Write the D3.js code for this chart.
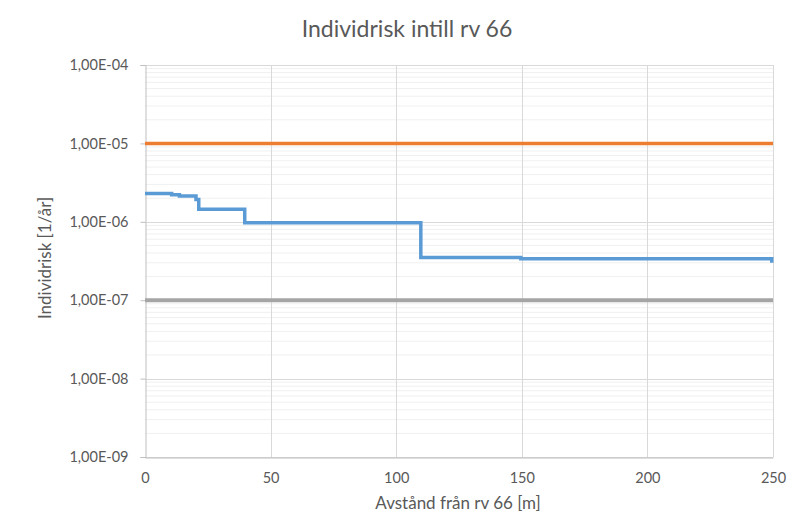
<!DOCTYPE html>
<html><head><meta charset="utf-8">
<script src="https://cdn.jsdelivr.net/npm/d3@7"></script>
<style>body{margin:0;background:#fff}svg{display:block}</style>
</head><body><svg id="c" width="787" height="513"></svg>
<script>
const title = "Individrisk intill rv 66";
const xLabel = "Avstånd från rv 66 [m]";
const yLabel = "Individrisk [1/år]";
const xTicks = [0, 50, 100, 150, 200, 250];
const yTicks = [1e-9, 1e-8, 1e-7, 1e-6, 1e-5, 1e-4];
const yTickLabels = ["1,00E-09","1,00E-08","1,00E-07","1,00E-06","1,00E-05","1,00E-04"];
// blue step series (distance m, risk 1/år)
const riskX = [0, 10.6, 10.6, 13.7, 13.7, 20.3, 20.3, 21.4, 21.4, 39.7, 39.7, 109.8, 109.8, 149.6, 149.6, 249.5, 249.5];
const riskY = [2.30e-6, 2.30e-6, 2.22e-6, 2.22e-6, 2.13e-6, 2.13e-6, 1.93e-6, 1.93e-6, 1.45e-6, 1.45e-6, 9.7e-7, 9.7e-7, 3.5e-7, 3.5e-7, 3.37e-7, 3.37e-7, 3.0e-7];
const upperLimit = [1e-5, 1e-5];
const lowerLimit = [1e-7, 1e-7];
const limitX = [0, 250];

const svg = d3.select("#c");
const m = {l:145, r:773, t:65, b:457};
const x = d3.scaleLinear().domain([0,250]).range([m.l, m.r]);
const y = d3.scaleLog().domain([1e-9,1e-4]).range([m.b, m.t]);
const txt = "#595959", font = "Lato, 'Open Sans', sans-serif";

// minor grid
const minor = [];
for (let e=-9; e<-4; e++) for (let k=2;k<=9;k++) minor.push(k*Math.pow(10,e));
svg.append("g").selectAll("line").data(minor).join("line")
  .attr("x1",m.l).attr("x2",m.r).attr("y1",d=>y(d)).attr("y2",d=>y(d))
  .attr("stroke","#f0f0f0").attr("stroke-width",1);
// major grid
svg.append("g").selectAll("line").data(yTicks).join("line")
  .attr("x1",m.l).attr("x2",m.r).attr("y1",d=>Math.round(y(d))+0.5).attr("y2",d=>Math.round(y(d))+0.5)
  .attr("stroke","#d9d9d9").attr("stroke-width",1);
svg.append("g").selectAll("line").data(xTicks.slice(1)).join("line")
  .attr("y1",m.t).attr("y2",m.b).attr("x1",d=>Math.round(x(d))+0.5).attr("x2",d=>Math.round(x(d))+0.5)
  .attr("stroke","#d9d9d9").attr("stroke-width",1);

// y axis
const yAxis = d3.axisLeft(y).tickValues(yTicks).tickFormat((d,i)=>yTickLabels[i]).tickSize(5).tickPadding(12);
const gy = svg.append("g").attr("transform",`translate(${m.l+0.5},0)`).call(yAxis);
gy.select(".domain").attr("stroke","#bfbfbf");
gy.selectAll(".tick line").attr("stroke","#bfbfbf");
gy.selectAll("text").attr("fill",txt).attr("font-family",font).attr("font-size",14.5);
// x axis
const xAxis = d3.axisBottom(x).tickValues(xTicks).tickSize(0).tickPadding(15);
const gx = svg.append("g").attr("transform",`translate(0,${m.b+0.5})`).call(xAxis);
gx.select(".domain").attr("stroke","#bfbfbf");
gx.selectAll("text").attr("fill",txt).attr("font-family",font).attr("font-size",14.5);

// lines
const line = d3.line().x(d=>x(d[0])).y(d=>y(d[1]));
svg.append("path").datum(limitX.map((d,i)=>[d,lowerLimit[i]])).attr("d",line)
  .attr("fill","none").attr("stroke","#a5a5a5").attr("stroke-width",4);
svg.append("path").datum(limitX.map((d,i)=>[d,upperLimit[i]])).attr("d",line)
  .attr("fill","none").attr("stroke","#ed7d31").attr("stroke-width",3.5);
svg.append("path").datum(riskX.map((d,i)=>[d,riskY[i]])).attr("d",line)
  .attr("fill","none").attr("stroke","#5b9bd5").attr("stroke-width",3.5).attr("stroke-linejoin","miter");

// titles
svg.append("text").attr("x",407).attr("y",37).attr("text-anchor","middle")
  .attr("fill",txt).attr("font-family",font).attr("font-size",23).text(title);
svg.append("text").attr("x",458).attr("y",509).attr("text-anchor","middle")
  .attr("fill",txt).attr("font-family",font).attr("font-size",17).text(xLabel);
svg.append("text").attr("transform","translate(51,258) rotate(-90)").attr("text-anchor","middle")
  .attr("fill",txt).attr("font-family",font).attr("font-size",17).text(yLabel);
</script></body></html>
